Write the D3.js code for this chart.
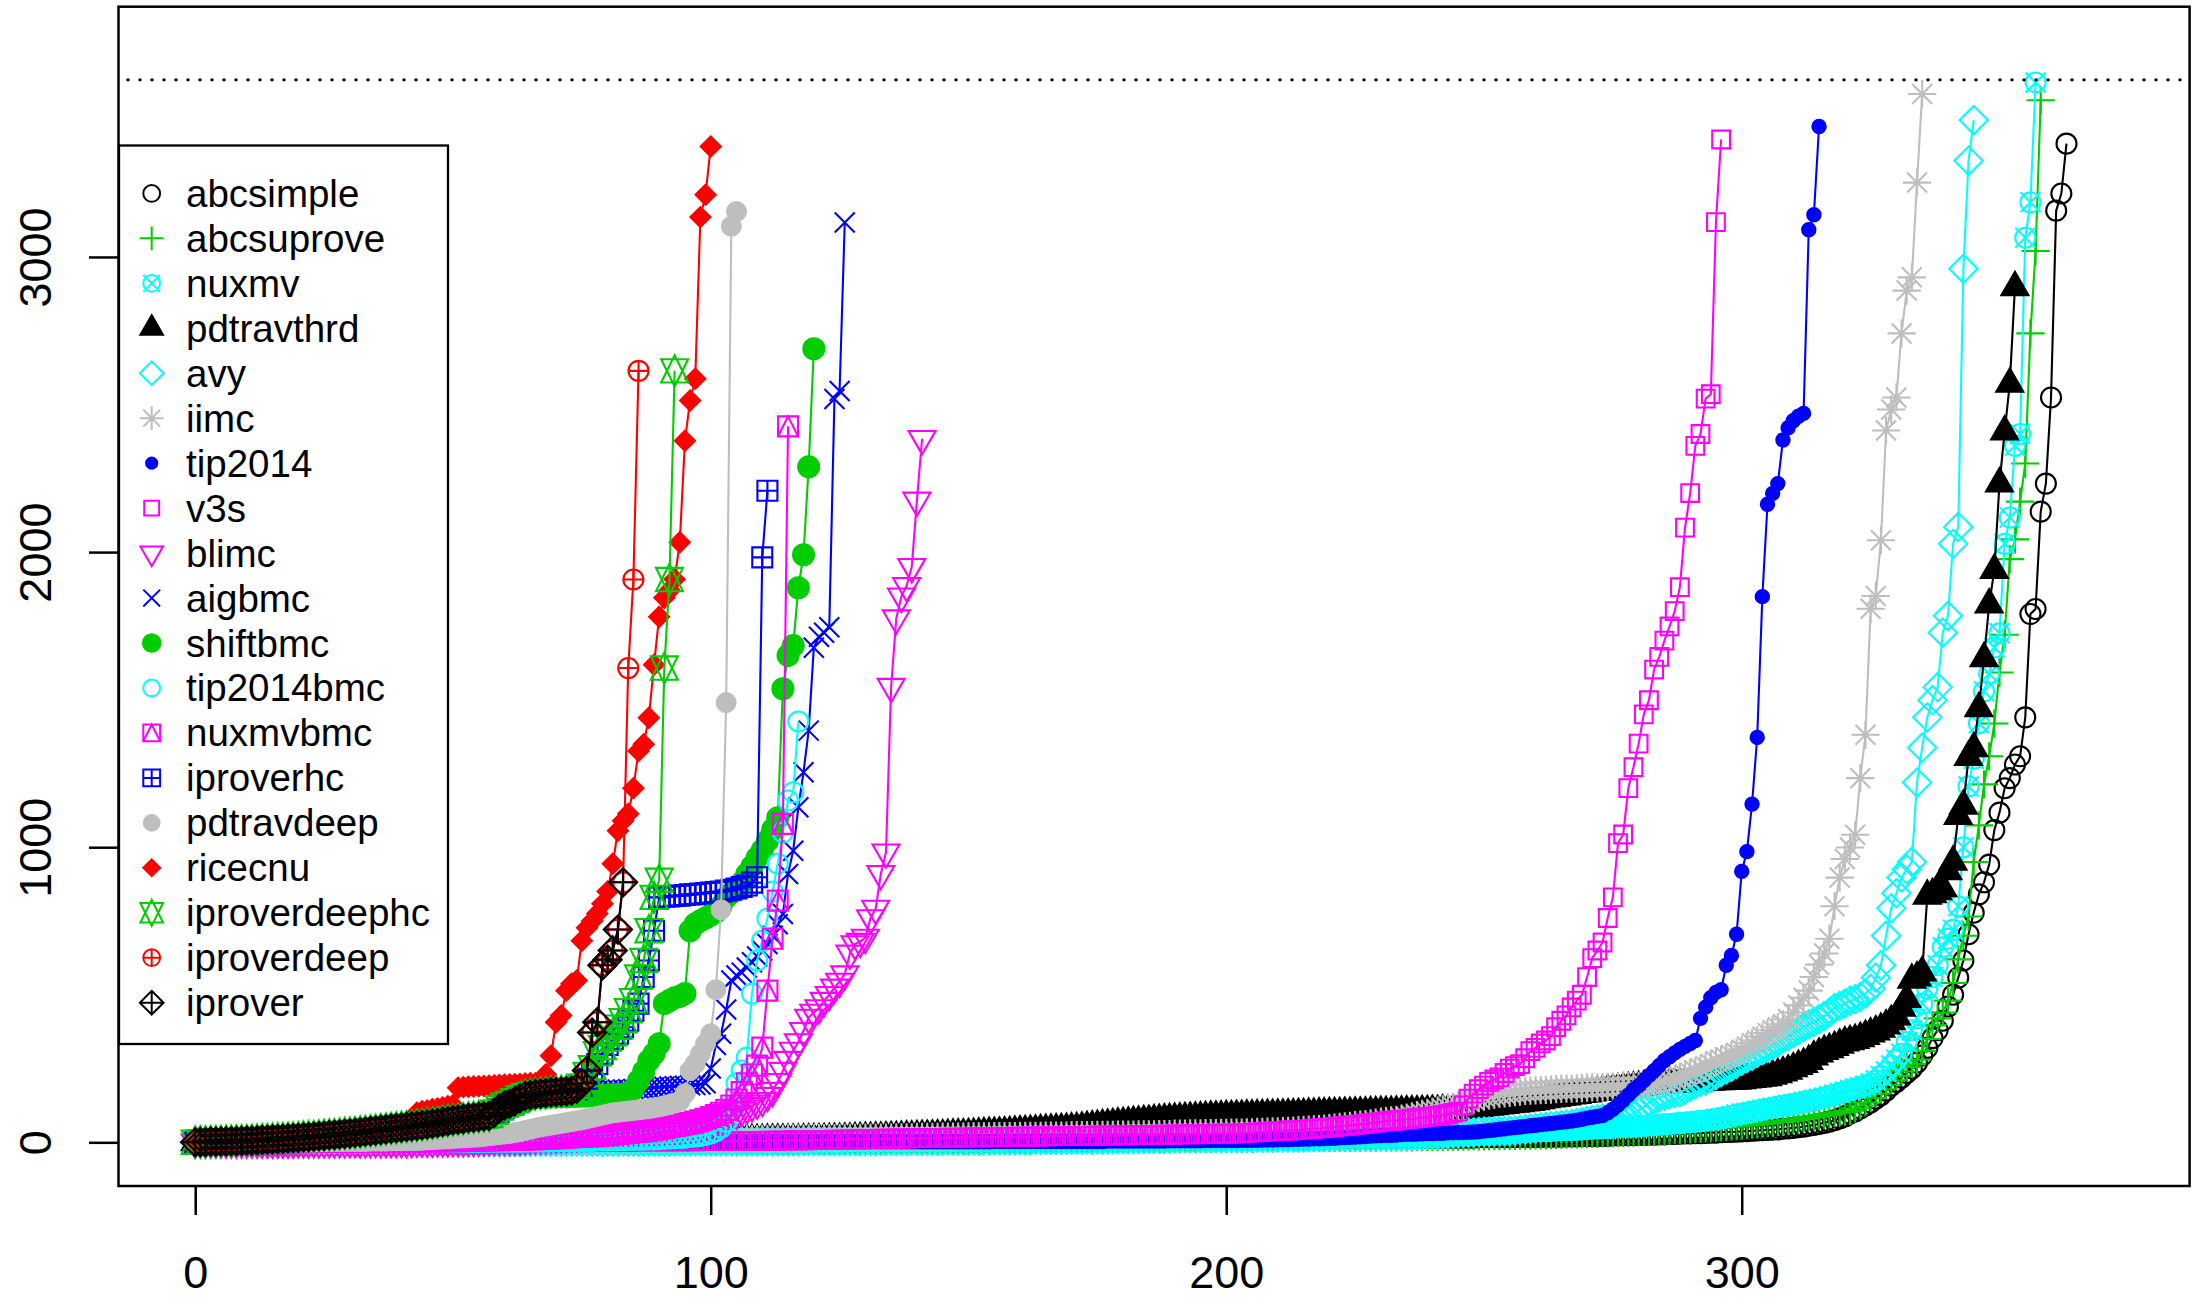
<!DOCTYPE html>
<html><head><meta charset="utf-8">
<script src="https://cdn.jsdelivr.net/npm/d3@7"></script>
<style>html,body{margin:0;padding:0;background:#fff;} svg{display:block;}</style>
</head><body>
<svg id="chart" width="2194" height="1297"></svg>
<script>
// ---------------- data (x = rank, y = seconds) ----------------
const abcsimple = [0,
0,0,0,0,0,0,0,0,0,0, 0,0,0,0,0,0,1,1,1,1, 1,1,1,1,1,1,1,1,1,1, 1,1,1,1,1,2,2,2,2,2,
2,2,2,2,2,2,2,2,2,2, 2,2,2,2,3,3,3,3,3,3, 3,3,3,3,3,3,3,3,3,4, 4,4,4,4,4,4,4,4,4,4,
4,4,5,5,5,5,5,5,5,5, 5,5,5,5,5,5,6,6,6,6, 6,6,6,6,6,6,6,6,7,7, 7,7,7,7,7,7,7,7,7,7,
7,8,8,8,8,8,8,8,8,8, 8,8,8,8,8,9,9,9,9,9, 9,9,9,9,9,9,9,9,9,9, 10,10,10,10,10,10,10,10,10,10,
10,10,10,10,10,11,11,11,11,11, 11,11,11,11,11,11,11,11,11,11, 12,12,12,12,12,12,12,12,12,12, 12,12,12,12,12,12,13,13,13,13,
13,13,13,13,13,13,13,13,13,13, 14,14,14,14,14,14,14,14,14,14, 14,14,14,15,15,15,15,15,15,15, 15,15,15,15,15,15,16,16,16,16,
16,16,16,16,16,16,16,16,17,17, 17,17,17,17,17,18,18,18,18,18, 18,19,19,19,19,20,20,20,21,21, 21,22,22,22,23,23,24,24,24,25,
25,26,26,27,27,28,28,29,30,30, 31,31,32,33,33,34,35,35,36,37, 38,39,40,41,42,43,44,46,47,49, 51,53,56,59,62,66,70,75,81,88,
98,105,115,125,135,148,160,175,192,205, 219,235,250,270,294,320,353,380,412,460, 500,558,616,705,778,840,881,941,1058,1117,
1200,1234,1280,1308,1440,1790,1807,2137,2232,2524, 3157,3215,3384];
const abcsuprove = [0,
0,0,0,0,0,0,0,0,0,0, 0,0,0,0,0,0,0,0,0,0, 0,0,0,1,1,1,1,1,1,1, 1,1,1,1,1,1,1,1,1,1,
1,1,1,1,2,2,2,2,2,2, 2,2,2,2,2,2,2,2,2,2, 2,2,2,3,3,3,3,3,3,3, 3,3,3,3,3,3,3,3,3,3,
3,4,4,4,4,4,4,4,4,4, 4,4,4,4,4,4,4,5,5,5, 5,5,5,5,5,5,5,5,5,5, 5,6,6,6,6,6,6,6,6,6,
6,6,6,6,6,6,7,7,7,7, 7,7,7,7,7,7,7,7,7,8, 8,8,8,8,8,8,8,8,8,8, 8,9,9,9,9,9,9,9,9,9,
9,9,9,10,10,10,10,10,10,10, 10,10,10,10,10,11,11,11,11,11, 11,11,11,11,11,11,12,12,12,12, 12,12,12,12,12,12,12,13,13,13,
13,13,13,13,13,14,14,14,14,14, 14,14,14,14,15,15,15,15,15,15, 15,15,16,16,16,16,16,16,16,17, 17,17,17,17,17,17,18,18,18,18,
18,18,19,19,19,19,20,20,20,20, 21,21,21,22,22,22,23,23,23,24, 24,24,25,25,26,26,27,27,28,28, 29,29,30,30,31,32,32,33,34,35,
35,36,37,38,39,40,41,42,43,44, 45,46,47,48,50,51,52,54,55,57, 58,60,61,63,65,67,69,71,73,76, 78,81,84,87,90,93,96,99,102,104,
107,115,125,135,150,165,180,195,210,225, 240,255,265,280,310,350,397,420,440,480, 540,620,700,765,950,1074,1213,1308,1419,1592,
1720,1976,2043,2171,2300,2741,3020,3531];
const nuxmv = [0,
0,0,0,0,0,0,0,0,0,0, 0,0,0,0,0,0,0,0,0,0, 0,0,0,0,0,0,0,0,0,1, 1,1,1,1,1,1,1,1,1,1,
1,1,1,1,1,1,1,1,1,1, 1,1,1,1,1,1,1,1,1,1, 1,1,1,1,1,2,2,2,2,2, 2,2,2,2,2,2,2,2,2,2,
2,2,2,2,2,2,2,2,2,2, 2,2,2,2,2,2,2,2,3,3, 3,3,3,3,3,3,3,3,3,3, 3,3,3,3,3,3,3,3,3,3,
3,3,3,3,3,4,4,4,4,4, 4,4,4,4,4,4,4,4,4,4, 4,4,4,4,5,5,5,5,5,5, 5,5,5,5,6,6,6,6,6,6,
6,6,7,7,7,7,7,7,7,8, 8,8,8,8,8,8,9,9,9,9, 9,9,9,10,10,10,10,10,10,11, 11,11,11,11,11,12,12,12,12,12,
12,13,13,13,13,13,13,14,14,14, 14,14,14,14,15,15,15,15,15,16, 16,16,16,17,17,17,18,18,18,19, 19,19,20,20,21,21,22,22,23,23,
24,24,25,26,26,27,28,28,29,30, 30,31,32,33,33,34,35,35,36,37, 38,38,39,40,40,41,42,43,44,45, 46,47,48,49,50,51,52,53,54,55,
56,57,58,60,61,62,64,65,67,68, 70,72,74,76,79,82,85,89,94,97, 100,103,107,110,114,117,120,124,127,130, 133,137,140,144,148,152,157,162,167,172,
177,182,187,192,199,210,225,240,260,280, 300,340,380,420,470,520,560,600,661,690, 720,800,1000,1206,1300,1420,1528,1588,1677,1725,
2028,2117,2360,2400,3065,3185,3591];
const pdtravthrd = [0,
0,0,0,0,0,0,0,0,0,0, 0,0,0,0,0,0,0,0,0,0, 0,0,0,0,0,1,1,1,1,1, 1,1,1,1,1,1,1,1,1,1,
1,1,1,1,1,1,1,1,1,1, 1,1,2,2,2,2,2,2,2,2, 2,2,2,2,2,3,3,3,3,3, 3,3,3,3,3,3,4,4,4,4,
4,4,4,4,4,5,5,5,5,5, 5,5,5,5,6,6,6,6,6,6, 6,6,6,7,7,7,7,7,7,7, 8,8,8,8,8,8,8,9,9,9,
9,10,10,11,11,12,12,13,13,14, 14,15,15,16,17,17,18,19,19,20, 21,21,22,23,23,24,25,26,26,27, 28,29,30,31,31,32,33,34,35,36,
37,38,39,40,41,42,43,44,45,46, 47,49,51,53,55,57,59,61,63,64, 66,68,69,71,72,74,75,77,78,79, 80,81,82,83,84,85,86,86,87,88,
88,89,89,90,90,91,91,92,92,93, 93,94,94,95,95,96,96,97,97,98, 98,98,99,99,100,100,100,101,101,102, 102,102,103,103,104,104,104,105,105,106,
106,107,107,108,109,110,112,114,116,118, 120,122,124,126,128,130,132,134,136,139, 142,145,148,150,153,155,158,160,163,165, 168,170,172,175,177,179,181,183,185,187,
189,191,193,194,195,197,198,199,200,201, 202,203,204,205,206,206,207,207,208,210, 212,214,216,218,220,225,230,236,242,250, 258,265,275,290,300,309,315,322,330,338,
342,346,352,360,368,375,384,395,410,426, 455,485,550,558,575,835,840,850,860,918, 950,1105,1140,1305,1335,1470,1640,1822,1939,2232,
2408,2570,2897];
const avy = [0,
0,0,0,0,0,0,0,0,0,0, 0,0,0,0,0,0,0,0,0,0, 0,0,0,0,0,0,0,0,1,1, 1,1,1,1,1,1,1,1,1,1,
1,1,1,1,1,1,1,1,1,1, 1,1,1,1,1,1,1,1,1,1, 1,1,1,2,2,2,2,2,2,2, 2,2,2,2,2,2,2,2,2,2,
2,2,2,2,2,2,2,2,2,2, 2,2,3,3,3,3,3,3,3,3, 3,3,3,3,3,3,3,3,3,3, 3,3,3,3,3,3,3,4,4,4,
4,4,4,4,4,4,4,4,4,4, 4,4,4,5,5,5,5,5,5,5, 5,5,5,5,5,6,6,6,6,6, 6,6,6,6,7,7,7,7,7,7,
7,7,8,8,8,8,8,8,9,9, 9,9,9,9,10,10,10,10,10,11, 11,11,11,11,12,12,12,12,12,13, 13,13,13,13,14,14,14,14,14,15,
15,15,15,15,16,16,16,16,16,17, 17,17,17,17,17,18,18,18,18,18, 19,19,19,19,19,20,20,20,20,20, 21,21,21,22,22,23,23,24,25,26,
27,28,29,30,31,32,33,34,35,36, 36,37,38,38,39,40,42,44,46,48, 50,52,54,56,58,60,62,65,68,72, 75,78,80,82,84,86,88,90,98,108,
120,135,145,152,158,163,167,170,178,188, 197,205,209,218,228,238,247,256,266,276, 285,293,303,312,320,330,340,351,360,370, 380,390,400,408,418,428,440,455,462,470,
480,485,493,505,520,558,600,700,793,844, 897,925,950,1219,1337,1440,1498,1542,1727,1784, 2028,2085,2960,3326,3464];
const iimc = [0,
0,0,0,0,0,0,0,0,0,0, 0,0,0,0,0,1,1,1,1,1, 1,1,1,1,1,1,1,1,2,2, 2,2,2,2,2,2,2,2,2,2,
2,3,3,3,3,3,3,3,3,3, 3,3,4,4,4,4,4,4,4,4, 4,5,5,5,5,5,5,5,5,6, 6,6,6,6,6,6,6,7,7,7,
7,7,7,7,7,8,8,8,8,8, 8,8,9,9,9,9,9,9,10,10, 10,10,10,10,11,11,11,11,11,12, 12,12,12,12,13,13,13,13,13,14,
14,14,14,14,15,15,15,15,15,16, 16,16,16,16,17,17,17,17,17,18, 18,18,18,18,19,19,19,19,19,20, 20,20,20,20,21,21,21,21,21,22,
22,22,22,22,23,23,23,23,23,24, 24,24,24,24,25,25,25,25,26,26, 26,26,27,27,27,27,28,28,28,29, 29,29,30,30,30,31,31,31,32,32,
33,33,33,34,34,35,35,36,37,37, 38,39,40,41,42,43,44,45,46,48, 50,52,54,56,58,60,62,64,67,70, 72,74,76,80,84,88,92,96,100,104,
108,112,116,120,125,130,140,145,150,155, 158,161,164,166,168,170,172,174,175,176, 177,178,179,180,181,182,182,183,184,185, 186,186,187,188,188,189,190,190,191,192,
194,197,200,203,206,210,215,222,230,236, 242,250,257,265,275,280,287,295,303,314, 325,336,345,358,370,380,390,400,417,440, 464,490,514,560,602,640,690,800,897,960,
999,1042,1234,1381,1808,1851,2040,2412,2483,2524, 2741,2886,2931,3252,3552];
const tip2014 = [0,
0,0,0,0,0,0,0,0,0,0, 0,0,0,0,0,0,0,0,0,0, 0,0,0,0,0,0,0,0,0,0, 0,0,0,0,0,0,0,0,0,0,
0,0,0,0,0,0,0,0,0,0, 0,0,0,0,0,0,0,1,1,1, 1,1,1,1,1,1,1,1,1,1, 1,1,1,1,1,1,1,1,1,1,
1,1,1,1,1,1,1,1,1,1, 1,1,1,1,1,1,1,1,1,1, 1,1,1,1,1,1,1,1,1,1, 1,1,1,1,1,2,2,2,2,2,
2,2,2,2,2,2,2,2,2,2, 2,2,2,2,2,2,2,2,2,2, 2,2,2,2,2,2,2,2,2,2, 2,2,2,2,3,3,3,3,3,3,
3,3,3,3,3,3,3,3,3,3, 3,3,3,3,3,3,4,4,4,4, 4,4,4,4,4,4,4,4,5,5, 5,5,5,5,5,6,6,6,6,6,
6,6,7,7,7,7,8,8,8,9, 9,9,10,10,11,11,12,12,13,14, 14,15,16,17,18,19,20,21,22,23, 24,24,25,26,27,27,28,29,30,30,
31,31,32,32,33,33,34,35,36,38, 40,42,44,46,48,50,52,54,56,58, 60,62,64,66,68,70,72,75,78,82, 85,88,91,100,112,126,142,160,178,192,
209,226,243,260,277,290,303,315,325,335, 345,420,458,490,508,517,600,633,705,918, 985,1146,1372,1849,2162,2199,2232,2380,2421,2445,
2460,2470,3092,3143,3442];
const v3s = [0,
0,0,0,0,0,0,0,0,0,0, 0,0,0,0,0,0,0,0,0,0, 0,0,0,0,0,0,0,0,0,0, 0,0,0,0,0,0,0,0,0,1,
1,1,1,1,1,1,1,1,1,1, 1,1,1,1,1,1,1,1,1,1, 1,1,1,1,1,1,2,2,2,2, 2,2,2,2,2,2,2,2,2,2,
2,2,2,2,3,3,3,3,3,3, 3,3,3,3,3,3,3,4,4,4, 4,4,4,4,4,5,5,5,5,5, 6,6,6,6,6,7,7,7,7,8,
8,8,8,9,9,9,10,10,10,11, 11,11,12,12,12,13,13,13,14,14, 14,15,15,15,15,16,16,16,16,17, 17,17,17,17,18,18,18,18,19,19,
19,19,20,20,20,20,21,21,21,21, 22,22,22,22,23,23,23,23,24,24, 24,24,25,25,25,25,26,26,26,26, 27,27,27,27,28,28,28,29,29,29,
30,30,31,32,33,34,35,36,37,38, 39,40,41,42,43,45,46,47,49,50, 52,54,56,57,59,61,63,65,67,69, 71,73,74,76,78,80,82,84,86,88,
90,92,95,100,104,125,148,165,180,192, 205,213,220,235,250,258,265,285,309,320, 335,345,360,390,412,430,457,480,500,560, 624,650,677,760,830,1014,1043,1200,1271,1351,
1450,1498,1602,1645,1700,1748,1800,1881,2083,2200, 2360,2400,2520,2535,3118,3398];
const blimc = [0,
0,0,0,0,0,0,0,0,0,0, 0,0,0,0,0,0,0,0,0,1, 1,1,1,1,1,1,1,1,1,1, 1,1,1,2,2,2,2,2,2,2,
2,2,3,3,3,3,4,4,4,5, 5,5,6,6,7,7,8,8,9,9, 9,10,10,11,12,13,14,15,16,17, 18,19,20,21,22,23,24,25,26,27,
28,30,32,34,36,38,40,42,44,46, 48,50,52,55,58,61,64,67,70,74, 78,82,86,92,98,108,116,124,132,141, 158,175,205,243,280,311,340,378,423,440,
455,480,500,525,545,570,640,672,680,694, 760,792,910,983,1544,1776,1850,1886,1950,2175, 2384];
const aigbmc = [0,
0,1,1,2,2,3,3,4,4,5, 6,6,7,8,9,10,11,12,13,14, 15,17,18,19,21,22,24,25,27,29, 30,32,34,36,38,40,42,44,46,48,
50,52,54,56,58,61,63,66,69,72, 75,77,79,82,84,86,88,90,100,114, 124,130,138,148,155,158,161,163,165,166, 167,168,169,170,171,172,173,174,175,176,
177,178,179,180,181,182,183,184,186,187, 188,189,190,191,192,193,194,196,200,250, 330,368,450,548,565,575,592,610,630,650, 672,700,739,774,909,988,1135,1254,1395,1676,
1713,1727,1745,2519,2546,3117];
const shiftbmc = [0,
0,0,1,1,2,2,3,3,4,4, 5,6,6,7,8,9,10,11,12,13, 14,15,17,18,19,21,22,24,25,27, 28,30,32,34,36,38,40,42,44,46,
48,50,52,54,56,58,61,63,66,69, 72,75,77,79,82,84,86,88,97,110, 120,127,136,146,152,152,153,153,154,154, 155,155,156,156,157,157,158,158,159,160,
161,162,163,165,180,209,240,277,300,334, 470,480,490,495,504,717,740,751,760,770, 780,800,830,845,860,880,909,935,964,990, 1022,1060,1100,1537,1650,1683,1879,1991,2289,2689];
const tip2014bmc = [0,
0,0,0,0,0,0,0,0,0,0, 0,0,0,0,0,0,0,0,0,0, 0,0,0,0,0,0,0,0,0,0, 0,0,0,0,0,1,1,1,1,1,
1,1,1,1,1,1,1,1,1,1, 1,1,1,1,1,2,2,2,2,2, 2,2,2,2,3,3,3,3,3,4, 4,4,4,5,5,5,5,6,6,6,
7,7,7,8,8,9,9,10,10,11, 12,13,14,15,16,18,20,22,25,30, 38,50,70,120,200,243,287,504,616,683, 758,850,944,1050,1158,1186,1426];
const nuxmvbmc = [0,
0,0,0,0,0,0,0,0,0,0, 0,0,0,0,0,0,0,0,0,1, 1,1,1,1,1,1,1,1,1,1, 1,1,1,1,2,2,2,2,2,2,
2,2,3,3,3,3,3,4,4,4, 4,5,5,5,6,6,6,7,7,8, 8,9,9,10,10,11,12,12,13,14, 15,16,17,18,19,20,21,22,23,24,
26,28,30,32,34,36,38,40,43,46, 49,52,55,58,62,66,70,75,80,86, 92,100,110,125,145,170,200,230,260,321, 514,690,819,1079,2426];
const iproverhc = [
0,1,1,2,2,3,4,4,5,5, 6,7,7,8,9,10,11,12,13,14, 15,16,18,19,20,22,23,25,26,28, 30,31,33,35,37,39,41,43,45,47,
49,51,53,55,57,60,62,65,68,71, 74,76,78,81,83,85,87,89,98,112, 122,129,137,147,155,158,162,164,166,168, 170,171,173,174,176,185,215,240,265,300,
330,350,368,390,412,446,470,560,616,717, 830,832,833,835,836,838,840,841,843,845, 846,848,850,853,856,860,865,870,880,898, 1982,2208];
const pdtravdeep = [0,
0,0,0,0,0,0,0,0,0,0, 0,0,0,1,1,1,1,1,1,1, 1,1,1,2,2,2,2,2,3,3, 3,3,3,4,4,4,4,5,5,5,
5,6,6,7,8,9,10,11,12,13, 14,15,16,17,18,20,22,24,26,28, 30,33,36,40,44,48,52,55,58,61, 64,67,70,73,76,80,84,88,92,96,
100,102,104,106,108,110,112,114,117,120, 124,128,133,140,165,243,267,300,334,368, 517,788,1490,3104,3154];
const ricecnu = [
0,1,2,3,3,4,5,6,7,8, 9,10,11,12,13,15,16,17,19,20, 21,23,24,26,27,29,31,33,35,37, 39,41,43,45,47,49,51,53,56,58,
60,63,66,100,105,108,112,115,118,122, 126,185,187,188,189,190,191,192,193,194, 195,196,197,198,199,200,200,201,230,293, 407,430,514,537,548,683,727,750,775,808,
850,944,1056,1090,1113,1200,1326,1349,1439,1618, 1781,1845,1870,1908,2033,2377,2514,2587,3135,3211, 3374];
const iproverdeephc = [
0,1,1,2,3,3,4,4,5,6, 6,7,8,9,10,11,12,13,14,15, 16,18,19,20,22,23,25,26,28,30, 31,33,35,37,39,41,43,45,47,49,
51,53,55,57,59,62,64,67,70,73, 76,78,80,83,85,87,89,91,102,116, 126,132,141,151,158,161,164,166,168,170, 171,173,174,176,178,190,230,253,300,321,
350,368,390,412,446,480,560,616,717,830, 888,1607,1907,2614];
const iproverdeep = [
0,1,1,2,2,3,3,4,4,5, 6,6,7,8,9,10,11,12,13,14, 15,17,18,19,21,22,24,25,27,29, 30,32,34,36,38,40,42,44,46,48,
50,52,54,56,58,61,63,66,69,72, 75,77,79,82,84,86,88,90,100,115, 125,131,140,150,157,160,163,165,167,169, 170,172,173,175,182,200,243,372,407,600,
619,650,721,881,1607,1907,2614];
const iprover = [
0,1,1,2,2,3,3,4,4,5, 6,6,7,8,9,10,11,12,13,14, 15,17,18,19,21,22,24,25,27,29, 30,32,34,36,38,40,42,44,46,48,
50,52,54,56,58,61,63,66,69,72, 75,77,79,82,84,86,88,90,100,115, 125,131,140,150,157,160,163,165,167,169, 170,172,173,175,182,200,243,372,407,600,
619,650,721,881];

const seriesNames = ["abcsimple","abcsuprove","nuxmv","pdtravthrd","avy","iimc","tip2014","v3s","blimc",
  "aigbmc","shiftbmc","tip2014bmc","nuxmvbmc","iproverhc","pdtravdeep","ricecnu","iproverdeephc","iproverdeep","iprover"];
const seriesValues = [abcsimple,abcsuprove,nuxmv,pdtravthrd,avy,iimc,tip2014,v3s,blimc,
  aigbmc,shiftbmc,tip2014bmc,nuxmvbmc,iproverhc,pdtravdeep,ricecnu,iproverdeephc,iproverdeep,iprover];
const seriesColors = ["#000000","#00CD00","#00FFFF","#000000","#00FFFF","#BEBEBE","#0000FF","#FF00FF","#FF00FF",
  "#0000FF","#00CD00","#00FFFF","#FF00FF","#0000FF","#BEBEBE","#FF0000","#00CD00","#FF0000","#000000"];
const seriesPch = [1,3,13,17,5,8,20,0,6,4,19,1,14,12,16,18,11,10,9];
const xTickValues = [0,100,200,300];
const yTickValues = [0,1000,2000,3000];
const timeoutLine = 3600;

// ---------------- drawing ----------------
const svg = d3.select("#chart");
const FONT = "'Liberation Sans', Arial, Helvetica, sans-serif";
svg.append("rect").attr("width",2194).attr("height",1297).attr("fill","#fff");

const plot = {left:118.5, right:2189.6, top:6.7, bottom:1186};
const xs = d3.scaleLinear().domain([-14.88, 386.88]).range([plot.left, plot.right]);
const ys = d3.scaleLinear().domain([-148, 3848]).range([plot.bottom, plot.top]);

svg.append("defs").append("clipPath").attr("id","clip")
  .append("rect").attr("x",plot.left).attr("y",plot.top)
  .attr("width",plot.right-plot.left).attr("height",plot.bottom-plot.top);

function symbolPath(pch, r){
  const circ = rad => `M${rad},0A${rad},${rad} 0 1,0 ${-rad},0A${rad},${rad} 0 1,0 ${rad},0Z`;
  const s2 = Math.SQRT2;
  const T0 = 1.55512030155621416073, T1 = 1.34677368708859836060, T2 = 0.77756015077810708036;
  switch(pch){
    case 0: { const h = r*0.886226925; return `M${-h},${-h}H${h}V${h}H${-h}Z`; }
    case 1: return circ(r);
    case 3: { const h = r*s2; return `M${-h},0H${h}M0,${-h}V${h}`; }
    case 4: return `M${-r},${-r}L${r},${r}M${-r},${r}L${r},${-r}`;
    case 5: { const h = r*s2; return `M0,${-h}L${h},0L0,${h}L${-h},0Z`; }
    case 6: { const a=T0*r, b=T2*r, w=T1*r; return `M0,${a}L${w},${-b}L${-w},${-b}Z`; }
    case 8: { const h = r*s2; return `M${-r},${-r}L${r},${r}M${-r},${r}L${r},${-r}M${-h},0H${h}M0,${-h}V${h}`; }
    case 9: { const h = r*s2; return `M0,${-h}L${h},0L0,${h}L${-h},0ZM${-h},0H${h}M0,${-h}V${h}`; }
    case 10: return circ(r) + `M${-r},0H${r}M0,${-r}V${r}`;
    case 11: { const a=T0*r, b=0.5*(T2+T0)*r, w=T1*r; return `M0,${-a}L${w},${b}L${-w},${b}ZM0,${a}L${w},${-b}L${-w},${-b}Z`; }
    case 12: return `M${-r},${-r}H${r}V${r}H${-r}ZM${-r},0H${r}M0,${-r}V${r}`;
    case 13: return circ(r) + `M${-r},${-r}L${r},${r}M${-r},${r}L${r},${-r}`;
    case 14: return `M${-r},${-r}H${r}V${r}H${-r}ZM0,${-r}L${r},${r}L${-r},${r}Z`;
    case 16: return circ(r);
    case 17: { const a=T0*r, b=T2*r, w=T1*r; return `M0,${-a}L${w},${b}L${-w},${b}Z`; }
    case 18: return `M0,${-r}L${r},0L0,${r}L${-r},0Z`;
    case 19: return circ(r*1.05);
    case 20: return circ(r*2/3);
  }
  return circ(r);
}
const filled = new Set([16,17,18,19,20]);

const R = 10, SW = 2.1;
const dataG = svg.append("g").attr("clip-path","url(#clip)");
const line = d3.line().x((d,i)=>xs(i)).y(d=>ys(d));

seriesValues.forEach((vals, k) => {
  const col = seriesColors[k], pch = seriesPch[k];
  const g = dataG.append("g").attr("class","series-"+seriesNames[k]);
  g.append("path").attr("d", line(vals)).attr("fill","none")
    .attr("stroke", col).attr("stroke-width", SW).attr("stroke-linejoin","round");
  const dpath = symbolPath(pch, R);
  g.selectAll("path.pt").data(vals).enter().append("path").attr("class","pt")
    .attr("transform",(d,i)=>`translate(${xs(i)},${ys(d)})`)
    .attr("d", dpath)
    .attr("fill", filled.has(pch) ? col : "none")
    .attr("stroke", col)
    .attr("stroke-width", pch===16 ? 1 : SW);
});

// timeout dotted line
svg.append("line").attr("x1",plot.left).attr("x2",plot.right)
  .attr("y1",ys(timeoutLine)).attr("y2",ys(timeoutLine))
  .attr("stroke","#000").attr("stroke-width",2.6).attr("stroke-dasharray","3,9")
  .attr("stroke-dashoffset",-8);

// plot box
svg.append("rect").attr("x",plot.left).attr("y",plot.top)
  .attr("width",plot.right-plot.left).attr("height",plot.bottom-plot.top)
  .attr("fill","none").attr("stroke","#000").attr("stroke-width",2.5);

// axes
const xAxis = d3.axisBottom(xs).tickValues(xTickValues).tickSize(29).tickPadding(0).tickFormat(d3.format("d"));
const gx = svg.append("g").attr("transform",`translate(0,${plot.bottom})`).call(xAxis);
gx.select(".domain").remove();
gx.selectAll(".tick line").attr("stroke","#000").attr("stroke-width",2.5);
gx.selectAll(".tick text").attr("font-family",FONT).attr("font-size",45).attr("fill","#000")
  .attr("y",102).attr("dy",0);

const yAxis = d3.axisLeft(ys).tickValues(yTickValues).tickSize(29.5).tickFormat(d3.format("d"));
const gy = svg.append("g").attr("transform",`translate(${plot.left},0)`).call(yAxis);
gy.select(".domain").remove();
gy.selectAll(".tick line").attr("stroke","#000").attr("stroke-width",2.5);
gy.selectAll(".tick text").attr("font-family",FONT).attr("font-size",45).attr("fill","#000")
  .attr("x",null).attr("dy",0).attr("text-anchor","middle")
  .attr("transform",`translate(${51.3-plot.left},0) rotate(-90)`);

// legend
const leg = {x:119, y:145.5, w:329, h:898.5, row0:193.4, step:44.96, symX:151.7, textX:186};
const lg = svg.append("g");
lg.append("rect").attr("x",leg.x).attr("y",leg.y).attr("width",leg.w).attr("height",leg.h)
  .attr("fill","#fff").attr("stroke","#000").attr("stroke-width",2.3);
seriesNames.forEach((name,k)=>{
  const yy = leg.row0 + k*leg.step;
  const pch = seriesPch[k], col = seriesColors[k];
  lg.append("path").attr("transform",`translate(${leg.symX},${yy})`)
    .attr("d", symbolPath(pch, 8.4))
    .attr("fill", filled.has(pch) ? col : "none")
    .attr("stroke", col).attr("stroke-width", pch===16 ? 1 : 2);
  lg.append("text").attr("x",leg.textX).attr("y",yy+13.5)
    .attr("font-family",FONT).attr("font-size",38.5).attr("fill","#000").text(name);
});
</script>
</body></html>
